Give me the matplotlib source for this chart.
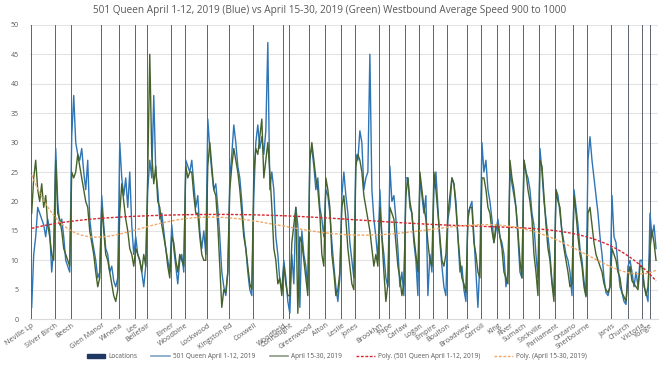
import numpy as np
import matplotlib.pyplot as plt
from matplotlib.patches import Patch
from matplotlib.lines import Line2D

# location names and their sample index along the route
locations = ["Neville Lp", "Silver Birch", "Beech", "Glen Manor", "Winena", "Lee", "Bellefair",
             "Elmer", "Woodbine", "Lockwood", "Kingston Rd", "Coxwell", "Woodfield", "Connaught",
             "Greenwood", "Alton", "Leslie", "Jones", "Brooklyn", "Pape", "Carlaw", "Logan",
             "Empire", "Boulton", "Broadview", "Carroll", "King", "River", "Sumach", "Sackville",
             "Parliament", "Ontario", "Sherbourne", "Jarvis", "Church", "Victoria", "Yonge"]
loc_idx = [0, 12, 20, 35, 44, 52, 58, 70, 77, 88, 99, 111, 126, 129, 139, 147, 155, 162, 174,
           179, 187, 194, 201, 208, 218, 225, 233, 239, 246, 254, 262, 271, 278, 290, 298, 305, 309]

# 501 Queen April 1-12, 2019 (blue)
speed_early = [
    2, 11, 14, 19, 18, 17, 16, 14, 17, 15, 8, 12,
    29, 20, 16, 17, 14, 10, 9, 8,
    31, 38, 30, 28, 27, 29, 25, 22, 27, 17, 14, 12, 10, 7, 8,
    21, 16, 12, 11, 8, 9, 6.5, 5.5, 7,
    30, 24, 21, 24, 19, 25, 16, 11,
    14, 11, 10, 8, 5.5, 9,
    22, 27, 24, 38, 25, 22, 17, 18, 15, 12, 10, 8,
    16, 12, 9, 6, 10, 11, 8,
    27, 26, 25, 27, 23, 19, 21, 15, 12, 15, 11,
    34, 29, 25, 22, 23, 19, 14, 8, 5.5, 4, 8,
    24, 28, 33, 30, 26, 24, 20, 15, 12, 8, 5, 4,
    21, 30, 33, 29, 31, 28, 32, 47, 22, 25, 22, 14, 11, 6.5, 5,
    10, 7, 3,
    1, 11, 6, 19, 16, 2, 15, 11, 9, 5,
    28, 29, 26, 22, 24, 19, 17, 14,
    22, 21, 18, 13, 9, 5.5, 3, 7,
    21, 25, 21, 18, 13, 10, 7,
    28, 27, 32, 30, 22, 24, 25, 45, 22, 17, 14, 10,
    22, 14, 11, 7, 5.5,
    26, 20, 21, 17, 12, 5.5, 8, 4,
    24, 24, 19, 18, 13, 10, 4,
    24, 21, 18, 21, 4, 11, 8,
    22, 25, 19, 13, 9, 5.5, 4,
    17, 19, 24, 23, 20, 14, 8, 9, 5, 3,
    18, 19, 20, 14, 8, 2, 10,
    30, 25, 27, 22, 20, 17, 13, 15,
    17, 14, 13, 11, 5.5, 8,
    25, 23, 21, 19, 14, 8, 7,
    27, 25, 24, 22, 18, 16, 11, 7,
    29, 25, 20, 17, 14, 11, 6.5, 4,
    22, 21, 18, 15, 13, 11, 10, 8, 4,
    22, 19, 16, 12, 10, 6.5, 4,
    27, 31, 27, 24, 21, 18, 14, 11, 7, 4.5, 4, 5.5,
    21, 14, 13, 9, 5.5, 4.5, 3, 2.5,
    9, 10, 8, 5.5, 8, 5.5, 10,
    10, 5.5, 4.5, 3,
    18, 14, 16, 12,
]

# April 15-30, 2019 (green)
speed_late = [
    18, 24, 27, 22, 20, 23, 19, 21, 16, 14, 11, 10,
    27, 18, 17, 15, 12, 11, 10, 9,
    25, 24, 25, 28, 26, 24, 22, 20, 19, 15, 13, 11, 8, 5.5, 7,
    19, 15, 11, 10, 8, 6, 4, 3, 5,
    18, 23, 20, 17, 15, 12, 11, 9,
    12, 11, 10, 8, 11, 9,
    25, 45, 28, 23, 26, 20, 19, 16, 14, 12, 9, 7,
    14, 13, 10, 8, 11, 10, 9,
    26, 24, 25, 25, 21, 18, 18, 14, 11, 10, 10,
    26, 30, 26, 22, 21, 16, 9, 2, 5, 4.5, 8,
    22, 26, 29, 27, 25, 22, 18, 14, 12, 9, 6, 5,
    25, 29, 28, 31, 34, 24, 27, 30, 25, 19, 12, 10, 6, 7, 4,
    9, 6, 4,
    4, 13, 16, 19, 1, 14, 13, 10, 7, 4,
    27, 30, 27, 24, 22, 18, 11, 9,
    24, 22, 19, 11, 8, 4, 5, 8,
    19, 21, 17, 12, 9, 6, 5,
    26, 28, 27, 25, 21, 19, 17, 15, 12, 9, 11, 9,
    19, 14, 8, 3, 6,
    19, 18, 17, 13, 9, 7, 4, 6,
    21, 24, 20, 18, 14, 11, 8,
    25, 22, 19, 17, 13, 10, 9,
    25, 22, 18, 14, 10, 9, 11,
    18, 21, 24, 23, 19, 14, 10, 7, 6, 4.5,
    17, 19, 19, 13, 11, 8, 7,
    24, 24, 22, 19, 18, 15, 13, 16,
    16, 14, 12, 8, 7, 6,
    27, 24, 22, 19, 15, 10, 7,
    27, 25, 22, 20, 17, 11, 8, 4,
    27, 26, 21, 16, 12, 10, 6, 3,
    22, 20, 19, 14.5, 12, 10, 8, 5.5, 6,
    21, 18, 14, 11, 9, 5.5, 3.8,
    18, 19, 16, 13, 11, 10, 9, 8, 6, 5, 4.5, 5.5,
    12, 11, 10, 8, 7, 4.5, 3.8, 3,
    7, 9, 6.5, 6, 5.5, 5, 9,
    9, 6, 4, 5.5,
    12, 15, 13, 10,
]

x = np.arange(len(speed_early))
x2 = np.arange(len(speed_late))

# polynomial trendlines (Excel "Poly." order 6)
fit_early = np.polyval(np.polyfit(x, speed_early, 6), x)
fit_late = np.polyval(np.polyfit(x2, speed_late, 6), x2)

plt.rcParams['font.family'] = ['Open Sans', 'DejaVu Sans']
fig = plt.figure(figsize=(6.6, 3.66), dpi=100)
ax = fig.add_axes([0.045, 0.128, 0.952, 0.804])

grey = '#595959'
ax.bar(loc_idx, [50] * len(loc_idx), width=0.5, color='#5f6873', zorder=1)
ax.plot(x, speed_early, color='#2e75b6', lw=1.0, zorder=2)
ax.plot(x2, speed_late, color='#44622a', lw=1.0, zorder=3)
ax.plot(x, fit_early, color='#d9232d', lw=1.0, ls=(0, (2, 1.2)), zorder=4)
ax.plot(x2, fit_late, color='#f0a868', lw=1.0, ls=(0, (2, 1.2)), zorder=4)

ax.set_xlim(-1, 313)
ax.set_ylim(0, 50)
ax.set_yticks(np.arange(0, 51, 5))
ax.yaxis.grid(True, color='#e3e3e3', lw=0.8)
ax.set_axisbelow(True)
for s in ['top', 'right', 'left']:
    ax.spines[s].set_visible(False)
ax.spines['bottom'].set_color('#d9d9d9')
ax.tick_params(axis='y', length=0, labelsize=5, labelcolor=grey, pad=8)
ax.tick_params(axis='x', length=0, labelsize=5.2, labelcolor=grey, pad=2)
ax.set_xticks(loc_idx)
ax.set_xticklabels(locations, rotation=35, ha='right', rotation_mode='anchor')

fig.suptitle("501 Queen April 1-12, 2019 (Blue) vs April 15-30, 2019 (Green) Westbound Average Speed 900 to 1000",
             y=0.985, fontsize=7.2, color=grey)

handles = [Patch(color='#1f3864'),
           Line2D([], [], color='#7fa3c4', lw=1.2),
           Line2D([], [], color='#8a9a80', lw=1.2),
           Line2D([], [], color='#d9232d', lw=1.0, ls=(0, (2, 1.2))),
           Line2D([], [], color='#f0a868', lw=1.0, ls=(0, (2, 1.2)))]
labels = ["Locations", "501 Queen April 1-12, 2019", "April 15-30, 2019",
          "Poly. (501 Queen April 1-12, 2019)", "Poly. (April 15-30, 2019)"]
leg = fig.legend(handles, labels, loc='center', bbox_to_anchor=(0.51, 0.025), ncol=5,
                 frameon=False, fontsize=4.7, handlelength=2.8, handleheight=0.45,
                 columnspacing=2.2, handletextpad=0.5)
for t in leg.get_texts():
    t.set_color(grey)

fig.savefig("out.png", dpi=100)
